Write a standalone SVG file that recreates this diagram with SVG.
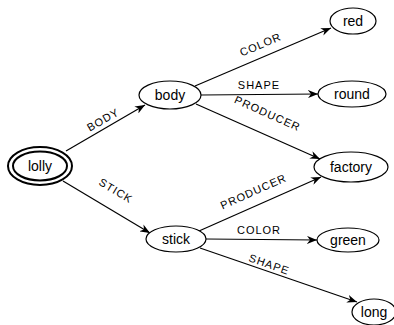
<svg xmlns="http://www.w3.org/2000/svg" width="394" height="325" viewBox="0 0 394 325">
<style>
.n ellipse{fill:#fff;stroke:#000;stroke-width:1.2}
.n text{font-family:"Liberation Sans",Arial,sans-serif;font-size:14px;text-anchor:middle;dominant-baseline:central;fill:#000}
#lolly ellipse{stroke-width:2}
.e line{stroke:#000;stroke-width:1.2;marker-end:url(#ah)}
.lbl{font-family:"Liberation Sans",Arial,sans-serif;font-size:11px;text-anchor:middle;fill:#000;letter-spacing:1px}
</style>
<defs>
<marker id="ah" viewBox="0 0 10 8" refX="10" refY="4" markerWidth="10" markerHeight="8" markerUnits="userSpaceOnUse" orient="auto">
<path d="M0,0 L10,4 L0,8 L3,4 z" fill="#000"/>
</marker>
</defs>
<g id="connectors" class="e">
<line x1="66" y1="151" x2="145" y2="105"/>
<line x1="63" y1="181" x2="150" y2="233"/>
<line x1="195" y1="86" x2="331" y2="28"/>
<line x1="201" y1="95" x2="318" y2="94"/>
<line x1="196" y1="104" x2="320" y2="159"/>
<line x1="199" y1="231" x2="321" y2="177"/>
<line x1="206" y1="239" x2="317" y2="240"/>
<line x1="200" y1="248" x2="357" y2="302"/>
<text class="lbl" transform="translate(105,123) rotate(-30)">BODY</text>
<text class="lbl" transform="translate(114,194) rotate(31)">STICK</text>
<text class="lbl" transform="translate(262,48) rotate(-23)">COLOR</text>
<text class="lbl" x="259" y="89">SHAPE</text>
<text class="lbl" transform="translate(266,117) rotate(24)">PRODUCER</text>
<text class="lbl" transform="translate(255,195) rotate(-24)">PRODUCER</text>
<text class="lbl" x="259" y="234">COLOR</text>
<text class="lbl" transform="translate(268,268) rotate(19)">SHAPE</text>
</g>
<g id="lolly" class="n"><ellipse cx="40" cy="166" rx="32" ry="19"/><ellipse cx="40" cy="166" rx="27" ry="14.5"/><text x="40" y="166">lolly</text></g>
<g id="body" class="n"><ellipse cx="170" cy="95" rx="31" ry="14"/><text x="170" y="95">body</text></g>
<g id="stick" class="n"><ellipse cx="176" cy="239" rx="30" ry="13"/><text x="176" y="239">stick</text></g>
<g id="red" class="n"><ellipse cx="353" cy="21" rx="23" ry="13"/><text x="353" y="21">red</text></g>
<g id="round" class="n"><ellipse cx="352" cy="94" rx="34" ry="13"/><text x="352" y="94">round</text></g>
<g id="factory" class="n"><ellipse cx="351" cy="167" rx="37" ry="15"/><text x="351" y="167">factory</text></g>
<g id="green" class="n"><ellipse cx="348" cy="240" rx="31" ry="12"/><text x="348" y="240">green</text></g>
<g id="long" class="n"><ellipse cx="374" cy="312" rx="22" ry="13"/><text x="374" y="312">long</text></g>
</svg>
